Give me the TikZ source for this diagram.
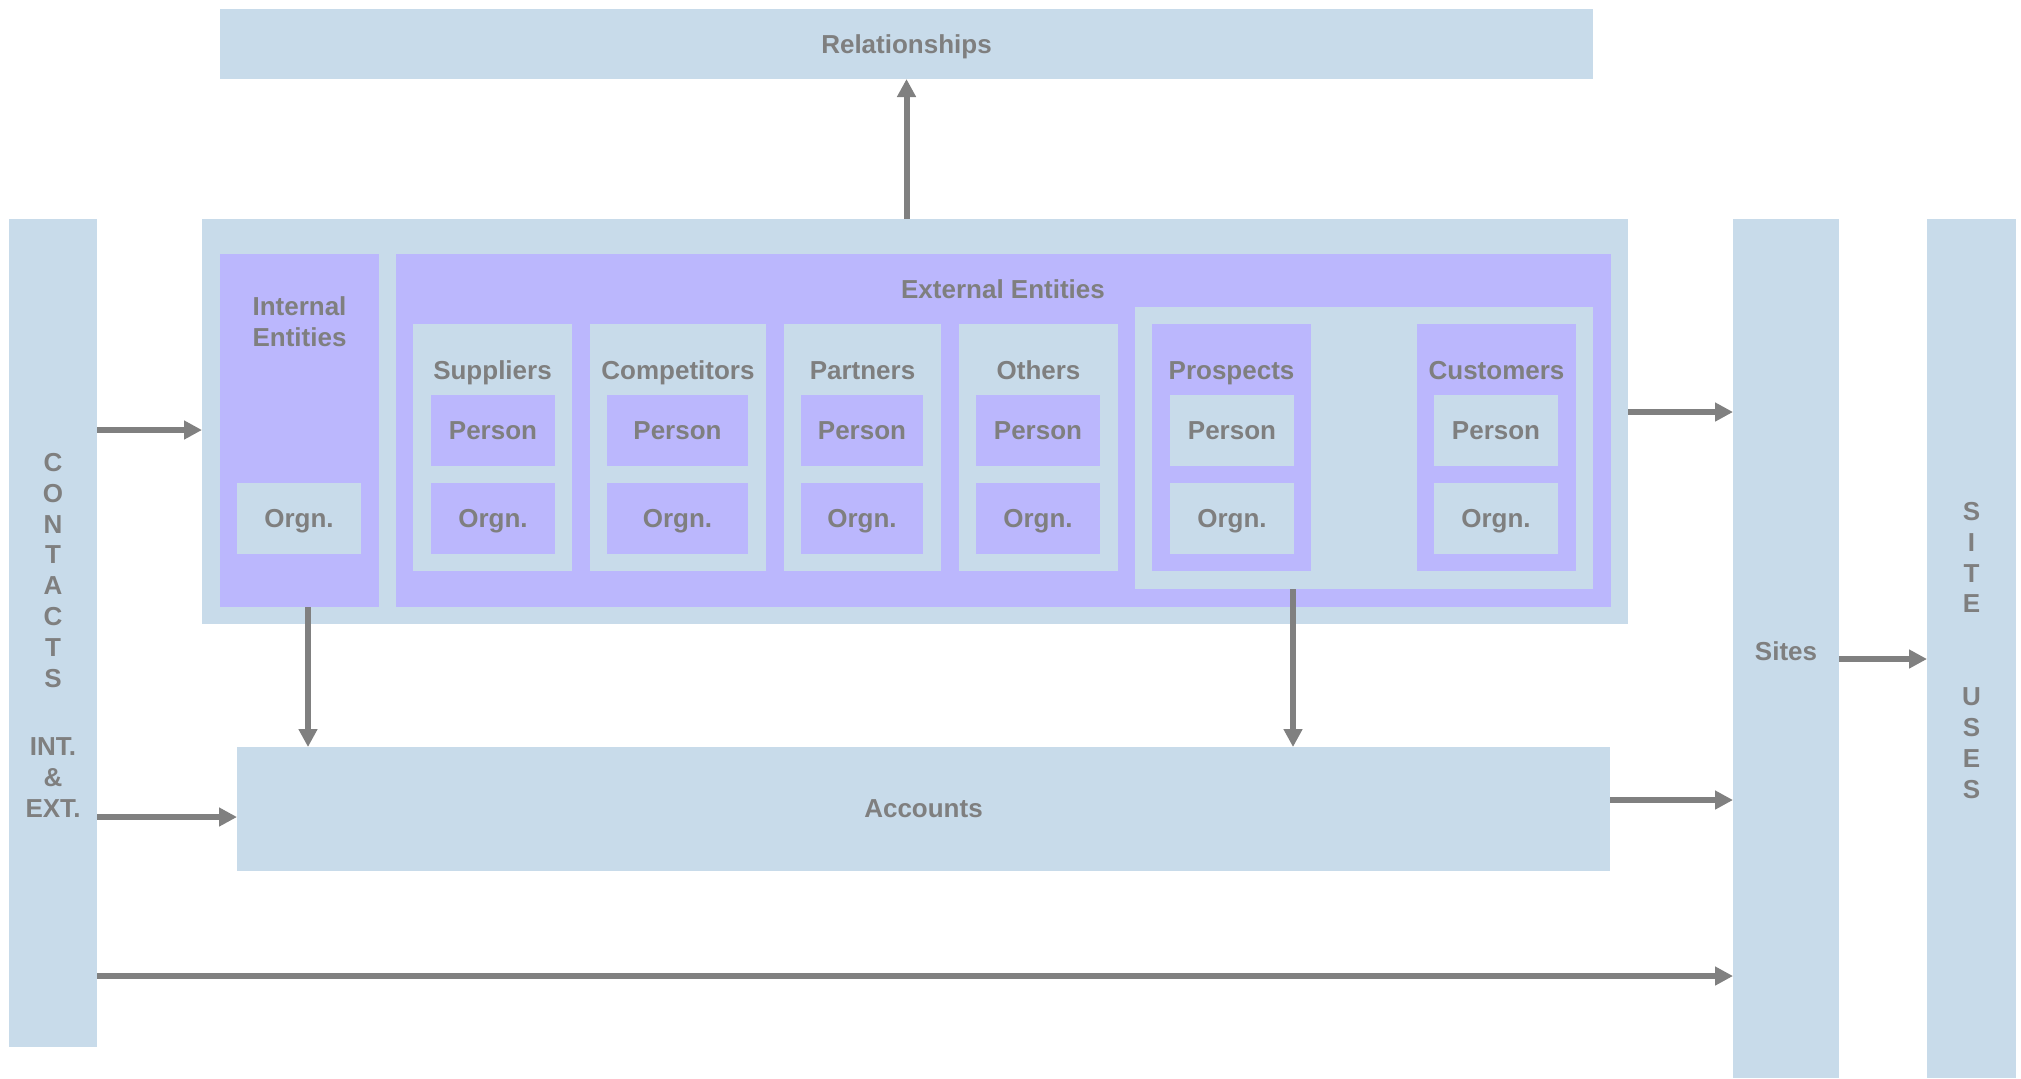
\documentclass[tikz,border=0pt]{standalone}
\usepackage{fontspec}
\setmainfont{Liberation Sans}
\usetikzlibrary{fit,arrows.meta,calc}
\definecolor{lb}{RGB}{200,219,234}
\definecolor{pu}{RGB}{187,183,253}
\definecolor{tx}{RGB}{127,127,127}
\definecolor{ar}{RGB}{128,128,128}
\tikzset{
  lbbox/.style={fill=lb,draw=none,inner sep=0pt,outer sep=0pt},
  pubox/.style={fill=pu,draw=none,inner sep=0pt,outer sep=0pt},
  lbl/.style={text=tx,font=\fontsize{13}{15.4}\selectfont\bfseries,inner sep=0pt,align=center},
  conn/.style={draw=ar,line width=3pt,-{Triangle[length=9pt,width=9pt]}},
}
\newcommand\rectbox[7]{\node[#2,fit={(#3,#4) (#5,#6)}] (#1) {};
  \node[lbl,text depth=0pt] (#1-t) at (#1.center) {#7};}
\begin{document}
\begin{tikzpicture}[x=0.5pt,y=-0.5pt]
\fill[white] (0,0) rectangle (2021,1078);
\useasboundingbox (0,0) rectangle (2021,1078);

% top / side bars
\rectbox{rel}{lbbox}{220}{9}{1593}{79}{Relationships}
\rectbox{contacts}{lbbox}{9}{219}{97}{1047}{}
\rectbox{main}{lbbox}{202}{219}{1628}{624}{}
\rectbox{sites}{lbbox}{1733}{219}{1839}{1078}{}
\rectbox{uses}{lbbox}{1927}{219}{2016}{1078}{}
\rectbox{acc}{lbbox}{237}{747}{1610}{871}{Accounts}

% internal entities
\rectbox{int}{pubox}{220}{254}{379}{607}{}
\node[lbl,anchor=north] (intT) at (299.5,296) {Internal\\Entities};
\rectbox{intorg}{lbbox}{237}{483}{361}{554}{Orgn.}

% external entities
\rectbox{ext}{pubox}{396}{254}{1611}{607}{}
\node[lbl,anchor=base] (extT) at (1003,298) {External Entities};

% four columns
\rectbox{sup}{lbbox}{413}{324}{572}{571}{}
\node[lbl,anchor=base] (supT) at (sup.center |- 0,379) {Suppliers};
\rectbox{supP}{pubox}{431}{395}{555}{466}{Person}
\rectbox{supO}{pubox}{431}{483}{555}{554}{Orgn.}

\rectbox{comp}{lbbox}{590}{324}{766}{571}{}
\node[lbl,anchor=base] (compT) at (comp.center |- 0,379) {Competitors};
\rectbox{compP}{pubox}{607}{395}{748}{466}{Person}
\rectbox{compO}{pubox}{607}{483}{748}{554}{Orgn.}

\rectbox{part}{lbbox}{784}{324}{941}{571}{}
\node[lbl,anchor=base] (partT) at (part.center |- 0,379) {Partners};
\rectbox{partP}{pubox}{801}{395}{923}{466}{Person}
\rectbox{partO}{pubox}{801}{483}{923}{554}{Orgn.}

\rectbox{oth}{lbbox}{959}{324}{1118}{571}{}
\node[lbl,anchor=base] (othT) at (oth.center |- 0,379) {Others};
\rectbox{othP}{pubox}{976}{395}{1100}{466}{Person}
\rectbox{othO}{pubox}{976}{483}{1100}{554}{Orgn.}

% prospects / customers group
\rectbox{grp}{lbbox}{1135}{307}{1593}{589}{}
\rectbox{pros}{pubox}{1152}{324}{1311}{571}{}
\node[lbl,anchor=base] (prosT) at (pros.center |- 0,379) {Prospects};
\rectbox{prosP}{lbbox}{1170}{395}{1294}{466}{Person}
\rectbox{prosO}{lbbox}{1170}{483}{1294}{554}{Orgn.}

\rectbox{cust}{pubox}{1417}{324}{1576}{571}{}
\node[lbl,anchor=base] (custT) at (cust.center |- 0,379) {Customers};
\rectbox{custP}{lbbox}{1434}{395}{1558}{466}{Person}
\rectbox{custO}{lbbox}{1434}{483}{1558}{554}{Orgn.}

% vertical texts
\node[lbl,anchor=north] (contT) at (53,453) {C\\O\\N\\T\\A\\C\\T\\S\\[19pt]INT.\\\&\\EXT.};
\node[lbl,anchor=north] (usesT) at (1971.5,502) {S\\I\\T\\E\\[31pt]U\\S\\E\\S};
\node[lbl,anchor=base] (sitesT) at (sites.center |- 0,660) {Sites};

% connectors
\draw[conn] (main.north -| rel.south) -- (rel.south);
\draw[conn] (contacts.east |- 0,430) -- (main.west |- 0,430);
\draw[conn] (contacts.east |- 0,817) -- (acc.west |- 0,817);
\draw[conn] (contacts.east |- 0,976) -- (sites.west |- 0,976);
\draw[conn] (main.east |- 0,412) -- (sites.west |- 0,412);
\draw[conn] (acc.east |- 0,800) -- (sites.west |- 0,800);
\draw[conn] (sites.east |- 0,659) -- (uses.west |- 0,659);
\draw[conn] (int.south -| 308,0) -- (acc.north -| 308,0);
\draw[conn] (grp.south -| 1293,0) -- (acc.north -| 1293,0);
\end{tikzpicture}
\end{document}
